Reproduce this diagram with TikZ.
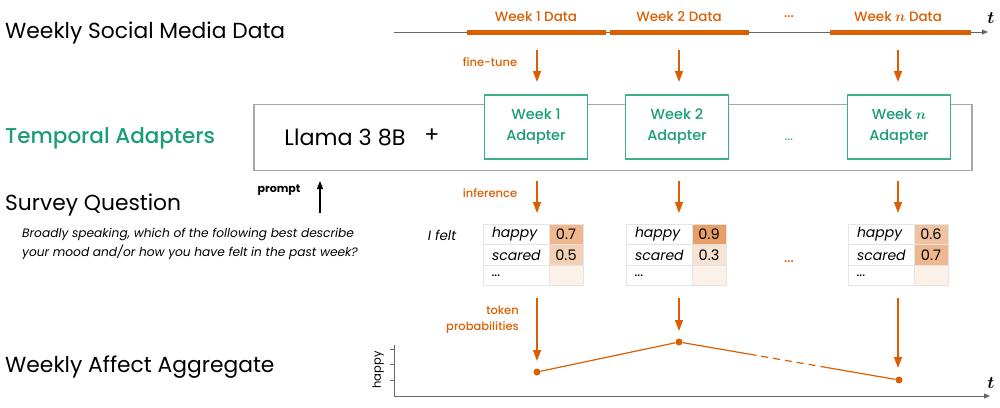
\documentclass[tikz,border=0pt]{standalone}
\usepackage{bm}
\usepackage{fontspec}
\setmainfont{Poppins}
\newfontfamily\pmed{Poppins Medium}
\usetikzlibrary{arrows.meta,calc}
\definecolor{org}{HTML}{D95F02}
\definecolor{grn}{HTML}{1B9E77}
\definecolor{gbox}{HTML}{A8A8A8}
\definecolor{cellline}{HTML}{E4E4E4}
\definecolor{axisc}{HTML}{666666}
\newcommand{\bn}{{$\bm{n}$}}
\newcommand{\btt}{{$\bm{t}$}}
\begin{document}
\begin{tikzpicture}[x=1pt,y=-1pt,
  title/.style={anchor=west, inner sep=0, font=\fontsize{21.8}{24}\selectfont},
  olab/.style={text=org, inner sep=0, font=\pmed\fontsize{11.5}{14}\selectfont},
  dlab/.style={text=org, inner sep=0, font=\pmed\fontsize{13.5}{14}\selectfont},
  oarrow/.style={draw=org, line width=1.4pt, -{Triangle[width=8pt,length=11pt]}},
  karrow/.style={draw=black, line width=1.1pt, -{Triangle[width=6pt,length=8pt]}},
  bar/.style={fill=org, draw=none, minimum width=139pt, minimum height=5pt, inner sep=0},
  adapter/.style={draw=grn!85, line width=1.1pt, fill=white, minimum width=103pt, minimum height=64pt, text=grn, font=\pmed\fontsize{14.5}{21}\selectfont, align=center, inner sep=0},
  lcell/.style={draw=cellline, line width=0.6pt, minimum height=20.5pt, text width=48pt, inner xsep=9pt, inner ysep=0, align=left, font=\itshape\fontsize{14}{14}\selectfont},
  vcell/.style={draw=cellline, line width=0.6pt, minimum height=20.5pt, minimum width=34pt, inner sep=0, font=\fontsize{14.5}{14}\selectfont},
  dot/.style={circle, fill=org, inner sep=0, minimum size=7pt},
  gline/.style={draw=axisc, line width=0.8pt},
  tlab/.style={inner sep=0, font=\fontsize{17}{17}\selectfont}
]
\useasboundingbox (0,0) rectangle (1000,407);

% ---------- left titles
\node[title] (t1) at (5,33) {Weekly Social Media Data};
\node[title, text=grn, font=\pmed\fontsize{21.5}{24}\selectfont] (t2) at (5,138) {Temporal Adapters};
\node[title] (t3) at (5,205) {Survey Question};
\node[title] (t4) at (5,367) {Weekly Affect Aggregate};
\node[anchor=north west, inner sep=0, align=left, font=\itshape\fontsize{12.2}{19}\selectfont] (q) at (22,228)
  {Broadly speaking, which of the following best describe\\your mood and/or how you have felt in the past week?};

% ---------- timeline
\coordinate (tl0) at (394,32);
\coordinate (tl1) at (988,32);
\draw[gline, -{Triangle[width=5pt,length=6pt]}] (tl0) -- (tl1);
\node[bar] (b1) at (536,32) {};
\node[bar] (b2) at (679,32) {};
\node[bar, minimum width=141pt] (bw) at (900,32) {};
\node[dlab] (d1) at (536,17) {Week 1 Data};
\node[dlab] (d2) at (679,17) {Week 2 Data};
\node[dlab] (dd) at (789,17) {...};
\node[dlab] (dn) at (898,17) {Week \bn{} Data};
\node[tlab] (tt) at (991,18) {\btt};

% ---------- fine-tune arrows
\coordinate (f1a) at (537,50); \coordinate (f1b) at (537,82);
\coordinate (f2a) at (679,50); \coordinate (f2b) at (679,82);
\coordinate (fna) at (898,50); \coordinate (fnb) at (898,82);
\draw[oarrow] (f1a) -- (f1b);
\draw[oarrow] (f2a) -- (f2b);
\draw[oarrow] (fna) -- (fnb);
\node[olab] (ft) at (490,62) {fine-tune};

% ---------- model box
\node[draw=gbox, line width=1.1pt, minimum width=718pt, minimum height=66pt, inner sep=0] (llm) at (613,137.5) {};
\node[inner sep=0, font=\fontsize{22.3}{24}\selectfont] (llama) at (345,137) {Llama 3 8B};
\node[inner sep=0, font=\fontsize{22}{24}\selectfont] (plus) at (432,136) {+};
\node[adapter] (a1) at (536,127) {Week 1\\Adapter};
\node[adapter] (a2) at (677,127) {Week 2\\Adapter};
\node[adapter] (an) at (899,127) {Week \bn\\Adapter};
\node[inner sep=0, text=grn, font=\fontsize{13}{14}\selectfont] (ad) at (789,140) {...};

% ---------- prompt
\node[inner sep=0, font=\bfseries\fontsize{11}{12}\selectfont] (pr) at (279,190) {prompt};
\coordinate (p0) at (320,213); \coordinate (p1) at (320,181);
\draw[karrow] (p0) -- (p1);

% ---------- inference arrows
\coordinate (i1a) at (537,181); \coordinate (i1b) at (537,213);
\coordinate (i2a) at (679,181); \coordinate (i2b) at (679,213);
\coordinate (ina) at (898,181); \coordinate (inb) at (898,213);
\draw[oarrow] (i1a) -- (i1b);
\draw[oarrow] (i2a) -- (i2b);
\draw[oarrow] (ina) -- (inb);
\node[olab] (inf) at (490,193) {inference};

% ---------- tables
\node[inner sep=0, font=\itshape\fontsize{13.5}{14}\selectfont] (ifelt) at (442,235) {I felt};
% table 1
\node[lcell] (h1) at (516,234.5) {happy};
\node[lcell] (s1) at (516,255) {scared};
\node[lcell] (e1) at (516,275.5) {...};
\node[vcell, fill=org!45] (hv1) at (566,234.5) {0.7};
\node[vcell, fill=org!30] (sv1) at (566,255) {0.5};
\node[vcell, fill=org!9] (ev1) at (566,275.5) {};
% table 2
\node[lcell] (h2) at (659,234.5) {happy};
\node[lcell] (s2) at (659,255) {scared};
\node[lcell] (e2) at (659,275.5) {...};
\node[vcell, fill=org!60] (hv2) at (709,234.5) {0.9};
\node[vcell, fill=org!18] (sv2) at (709,255) {0.3};
\node[vcell, fill=org!9] (ev2) at (709,275.5) {};
% table n
\node[lcell] (hn) at (881,234.5) {happy};
\node[lcell] (sn) at (881,255) {scared};
\node[lcell] (en) at (881,275.5) {...};
\node[vcell, fill=org!38] (hvn) at (931,234.5) {0.6};
\node[vcell, fill=org!45] (svn) at (931,255) {0.7};
\node[vcell, fill=org!9] (evn) at (931,275.5) {};
\node[dlab] (td) at (789,262) {...};

% ---------- token probability arrows
\node[olab, align=right, anchor=east, font=\pmed\fontsize{11.5}{16}\selectfont] (tp) at (519,320) {token\\probabilities};
\coordinate (k1a) at (537,298); \coordinate (k1b) at (537,361);
\coordinate (k2a) at (679,298); \coordinate (k2b) at (679,331);
\coordinate (kna) at (898,298); \coordinate (knb) at (898,368);
\draw[oarrow] (k1a) -- (k1b);
\draw[oarrow] (k2a) -- (k2b);
\draw[oarrow] (kna) -- (knb);

% ---------- plot
\coordinate (o) at (394,396);
\coordinate (ytop) at (394,345);
\coordinate (xend) at (990,396);
\draw[gline] (o) -- (ytop);
\draw[gline, -{Triangle[width=5pt,length=6pt]}] (o) -- (xend);
\foreach \yy/\nm in {349/ya,364/yb,380/yc} {
  \coordinate (\nm0) at (390,\yy); \coordinate (\nm1) at (394,\yy);
  \draw[gline] (\nm0) -- (\nm1);
}
\node[rotate=90, inner sep=0, font=\fontsize{11.5}{14}\selectfont] (hy) at (378,370) {happy};
\node[tlab] (tb) at (991,383) {\btt};

\node[dot] (q1) at (537,372) {};
\node[dot] (q2) at (679,342) {};
\node[dot] (q3) at (899,380) {};
\coordinate (m1) at ($(q2)!0.32!(q3)$);
\coordinate (m2) at ($(q2)!0.67!(q3)$);
\draw[org, line width=1.2pt] (q1) -- (q2);
\draw[org, line width=1.2pt] (q2) -- (m1);
\draw[org, line width=1.2pt, dash pattern=on 7pt off 5pt] (m1) -- (m2);
\draw[org, line width=1.2pt] (m2) -- (q3);
\end{tikzpicture}
\end{document}
